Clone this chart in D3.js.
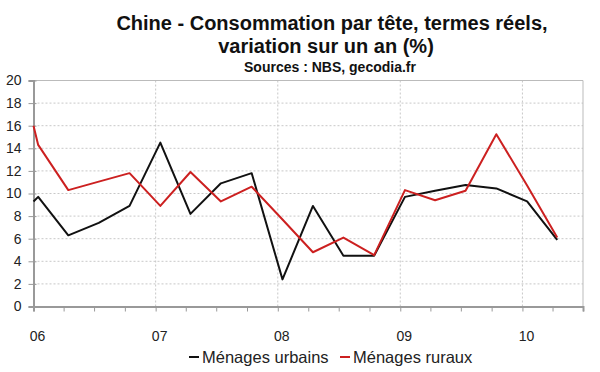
<!DOCTYPE html>
<html>
<head>
<meta charset="utf-8">
<script src="https://cdn.jsdelivr.net/npm/d3@7"></script>
<style>
  body { margin: 0; background: #fff; }
  svg { display: block; font-family: "Liberation Sans", Arial, sans-serif; }
</style>
</head>
<body>
<svg id="chart" width="600" height="372"></svg>
<script>
var dates = ['2006-01-01', '2006-01-15', '2006-04-15', '2006-07-15', '2006-10-15',
  '2007-01-15', '2007-04-15', '2007-07-15', '2007-10-15',
  '2008-01-15', '2008-04-15', '2008-07-15', '2008-10-15',
  '2009-01-15', '2009-04-15', '2009-07-15', '2009-10-15',
  '2010-01-15', '2010-04-15'];
var urbains = [9.3, 9.7, 6.3, 7.4, 8.9, 14.5, 8.2, 10.9, 11.8, 2.4, 8.9, 4.5, 4.5, 9.7, 10.25, 10.75, 10.45, 9.3, 5.9];
var ruraux = [16.0, 14.3, 10.3, 11.05, 11.8, 8.9, 11.9, 9.3, 10.6, 7.7, 4.8, 6.1, 4.55, 10.3, 9.4, 10.25, 15.25, 10.7, 6.1];
var yTicks = [0, 2, 4, 6, 8, 10, 12, 14, 16, 18, 20];
var seriesNames = ['Ménages urbains', 'Ménages ruraux'];
var colors = ['#111111', '#cc2020'];
var titleLines = ['Chine - Consommation par tête, termes réels,', 'variation sur un an (%)'];
var sourceText = 'Sources : NBS, gecodia.fr';

var parse = d3.timeParse('%Y-%m-%d');
var series = [urbains, ruraux].map((vals, i) => ({
  name: seriesNames[i],
  color: colors[i],
  values: vals.map((v, j) => ({date: parse(dates[j]), value: v}))
}));

var margin = {left: 33.5, right: 17, top: 80.5, bottom: 65.5};
var width = 600, height = 372;

var svg = d3.select('#chart');

var x = d3.scaleTime()
  .domain([parse('2006-01-01'), parse('2010-07-01')])
  .range([margin.left, width - margin.right]);
var y = d3.scaleLinear()
  .domain([0, 20])
  .range([height - margin.bottom, margin.top]);

var years = d3.timeYear.range(parse('2006-01-01'), parse('2010-07-01'));
var quarters = d3.timeMonth.every(3).range(parse('2006-01-01'), parse('2010-07-02'));

// grid
svg.append('g')
  .attr('stroke', '#c8c8c8')
  .attr('stroke-dasharray', '2,2')
  .selectAll('line')
  .data(yTicks.filter(d => d > 0 && d < 20))
  .join('line')
  .attr('x1', margin.left)
  .attr('x2', width - margin.right)
  .attr('y1', d => y(d))
  .attr('y2', d => y(d));

svg.append('g')
  .attr('stroke', '#c8c8c8')
  .attr('stroke-dasharray', '2,2')
  .selectAll('line')
  .data(years.slice(1))
  .join('line')
  .attr('x1', d => x(d))
  .attr('x2', d => x(d))
  .attr('y1', y(0))
  .attr('y2', y(20));

// frame top / right
svg.append('path')
  .attr('fill', 'none')
  .attr('stroke', '#bbb')
  .attr('d', `M${margin.left},${y(20)}H${width - margin.right}V${y(0)}`);

// y axis
var yAxis = svg.append('g')
  .attr('transform', `translate(${margin.left},0)`)
  .call(d3.axisLeft(y).tickValues(yTicks).tickSize(5).tickPadding(7));
yAxis.select('.domain').attr('stroke', '#999').attr('stroke-width', 2);
yAxis.selectAll('.tick line').attr('stroke', '#999').attr('x2', -5).attr('x1', 3);
yAxis.selectAll('text').attr('font-size', 14).attr('fill', '#222')
  .attr('font-family', '"Liberation Sans", Arial, sans-serif');

// x axis
var xAxis = svg.append('g')
  .attr('transform', `translate(0,${y(0)})`)
  .call(d3.axisBottom(x).tickValues(quarters).tickSize(5).tickFormat(''));
xAxis.select('.domain').attr('stroke', '#999').attr('stroke-width', 2);
xAxis.selectAll('.tick line').attr('stroke', '#999');

svg.append('g')
  .attr('font-size', 14)
  .attr('fill', '#222')
  .attr('text-anchor', 'middle')
  .selectAll('text')
  .data(years)
  .join('text')
  .attr('x', d => x(d) + 4)
  .attr('y', y(0) + 34)
  .text(d3.timeFormat('%y'));

// lines
var line = d3.line()
  .x(d => x(d.date))
  .y(d => y(d.value));

svg.append('g')
  .attr('fill', 'none')
  .attr('stroke-width', 2)
  .attr('stroke-linejoin', 'round')
  .selectAll('path')
  .data(series)
  .join('path')
  .attr('stroke', d => d.color)
  .attr('d', d => line(d.values));

// titles
svg.append('g')
  .attr('text-anchor', 'middle')
  .attr('font-weight', 'bold')
  .attr('fill', '#111')
  .attr('font-size', 20)
  .selectAll('text')
  .data(titleLines)
  .join('text')
  .attr('x', (d, i) => i === 0 ? 332 : 326)
  .attr('y', (d, i) => 30 + i * 23)
  .text(d => d);

svg.append('text')
  .attr('x', 330)
  .attr('y', 72)
  .attr('text-anchor', 'middle')
  .attr('font-weight', 'bold')
  .attr('font-size', 14)
  .attr('fill', '#111')
  .text(sourceText);

// legend
var legend = svg.append('g')
  .attr('transform', 'translate(189,357)')
  .selectAll('g')
  .data(series)
  .join('g')
  .attr('transform', (d, i) => `translate(${i * 151},0)`);

legend.append('line')
  .attr('x1', 0)
  .attr('x2', 10)
  .attr('y1', 0)
  .attr('y2', 0)
  .attr('stroke', d => d.color)
  .attr('stroke-width', 2);

legend.append('text')
  .attr('x', 13)
  .attr('y', 6)
  .attr('font-size', 16.5)
  .attr('fill', '#222')
  .text(d => d.name);
</script>
</body>
</html>
